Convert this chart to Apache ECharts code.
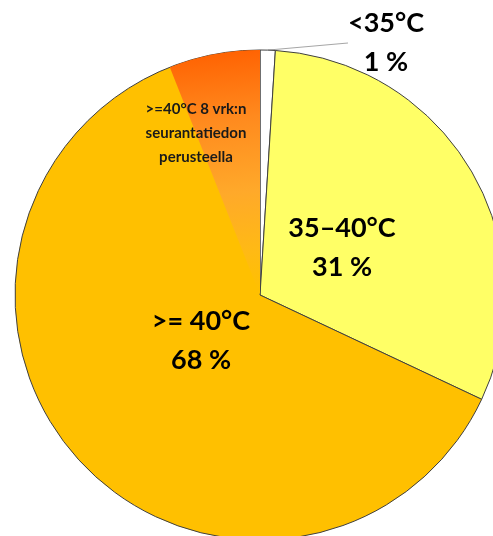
<!DOCTYPE html>
<html>
<head>
<meta charset="utf-8">
<title>Pie</title>
<script src="https://cdn.jsdelivr.net/npm/echarts@6/dist/echarts.min.js"></script>
<style>
  html, body { margin: 0; padding: 0; background: #fff; }
  #chart { width: 493px; height: 536px; }
</style>
</head>
<body>
<div id="chart"></div>
<script>
  // data
  const categories = ['<35°C', '35–40°C', '>= 40°C']
  const shares = [1, 31, 68]
  const sliceColors = ['#FFFFFF', '#FFFF66', '#FFC000']
  // part of the >= 40°C slice
  const subLabel = '>=40°C 8 vrk:n\nseurantatiedon\nperusteella'
  const subShare = 6

  // where each label sits (pixels)
  const mainLabelPos = [[386, 43], [342, 248], [201, 341]]
  const subLabelPos = [196, 133]

  const chart = echarts.init(document.getElementById('chart'))
  const font = 'Lato, "Open Sans", sans-serif'

  chart.setOption({
    animation: false,
    backgroundColor: '#fff',
    series: [{
      name: 'main',
      type: 'pie',
      center: [260, 295],
      radius: 245,
      startAngle: 90,
      clockwise: true,
      silent: true,
      itemStyle: {
        borderColor: '#404040',
        borderWidth: 1
      },
      label: {
        position: 'inside',
        formatter: '{b}\n{c} %',
        fontFamily: font,
        fontWeight: 'bold',
        fontSize: 27,
        lineHeight: 39,
        color: '#000',
        align: 'center'
      },
      labelLine: { show: false },
      labelLayout: function (p) {
        const pos = mainLabelPos[p.dataIndex]
        return { x: pos[0], y: pos[1], align: 'center', verticalAlign: 'middle' }
      },
      data: categories.map(function (c, i) {
        const item = { name: c, value: shares[i], itemStyle: { color: sliceColors[i] } }
        if (i === 0) {
          item.label = { position: 'outside' }
          item.labelLine = { show: true, length: 10, length2: 0, lineStyle: { color: '#A6A6A6', width: 1 } }
        }
        return item
      })
    }, {
      name: 'sub',
      type: 'pie',
      center: [260, 295],
      radius: 245,
      startAngle: 90,
      clockwise: true,
      silent: true,
      label: {
        position: 'inside',
        formatter: '{b}',
        fontFamily: font,
        fontWeight: 'bold',
        fontSize: 15,
        lineHeight: 24,
        color: '#1a1a1a',
        align: 'center'
      },
      labelLine: { show: false },
      labelLayout: function (p) {
        return { x: subLabelPos[0], y: subLabelPos[1], align: 'center', verticalAlign: 'middle' }
      },
      data: [{
        name: '',
        value: 100 - subShare,
        itemStyle: { color: 'rgba(0,0,0,0)' },
        label: { show: false }
      }, {
        name: subLabel,
        value: subShare,
        itemStyle: {
          color: new echarts.graphic.LinearGradient(0, 0, 0.25, 1, [
            { offset: 0, color: '#FF5F00' },
            { offset: 0.3, color: '#FF8A1E' },
            { offset: 0.6, color: '#FFA92A' },
            { offset: 0.85, color: '#FFBA14' },
            { offset: 1, color: '#FFC000' }
          ])
        }
      }]
    }]
  })
</script>
</body>
</html>
